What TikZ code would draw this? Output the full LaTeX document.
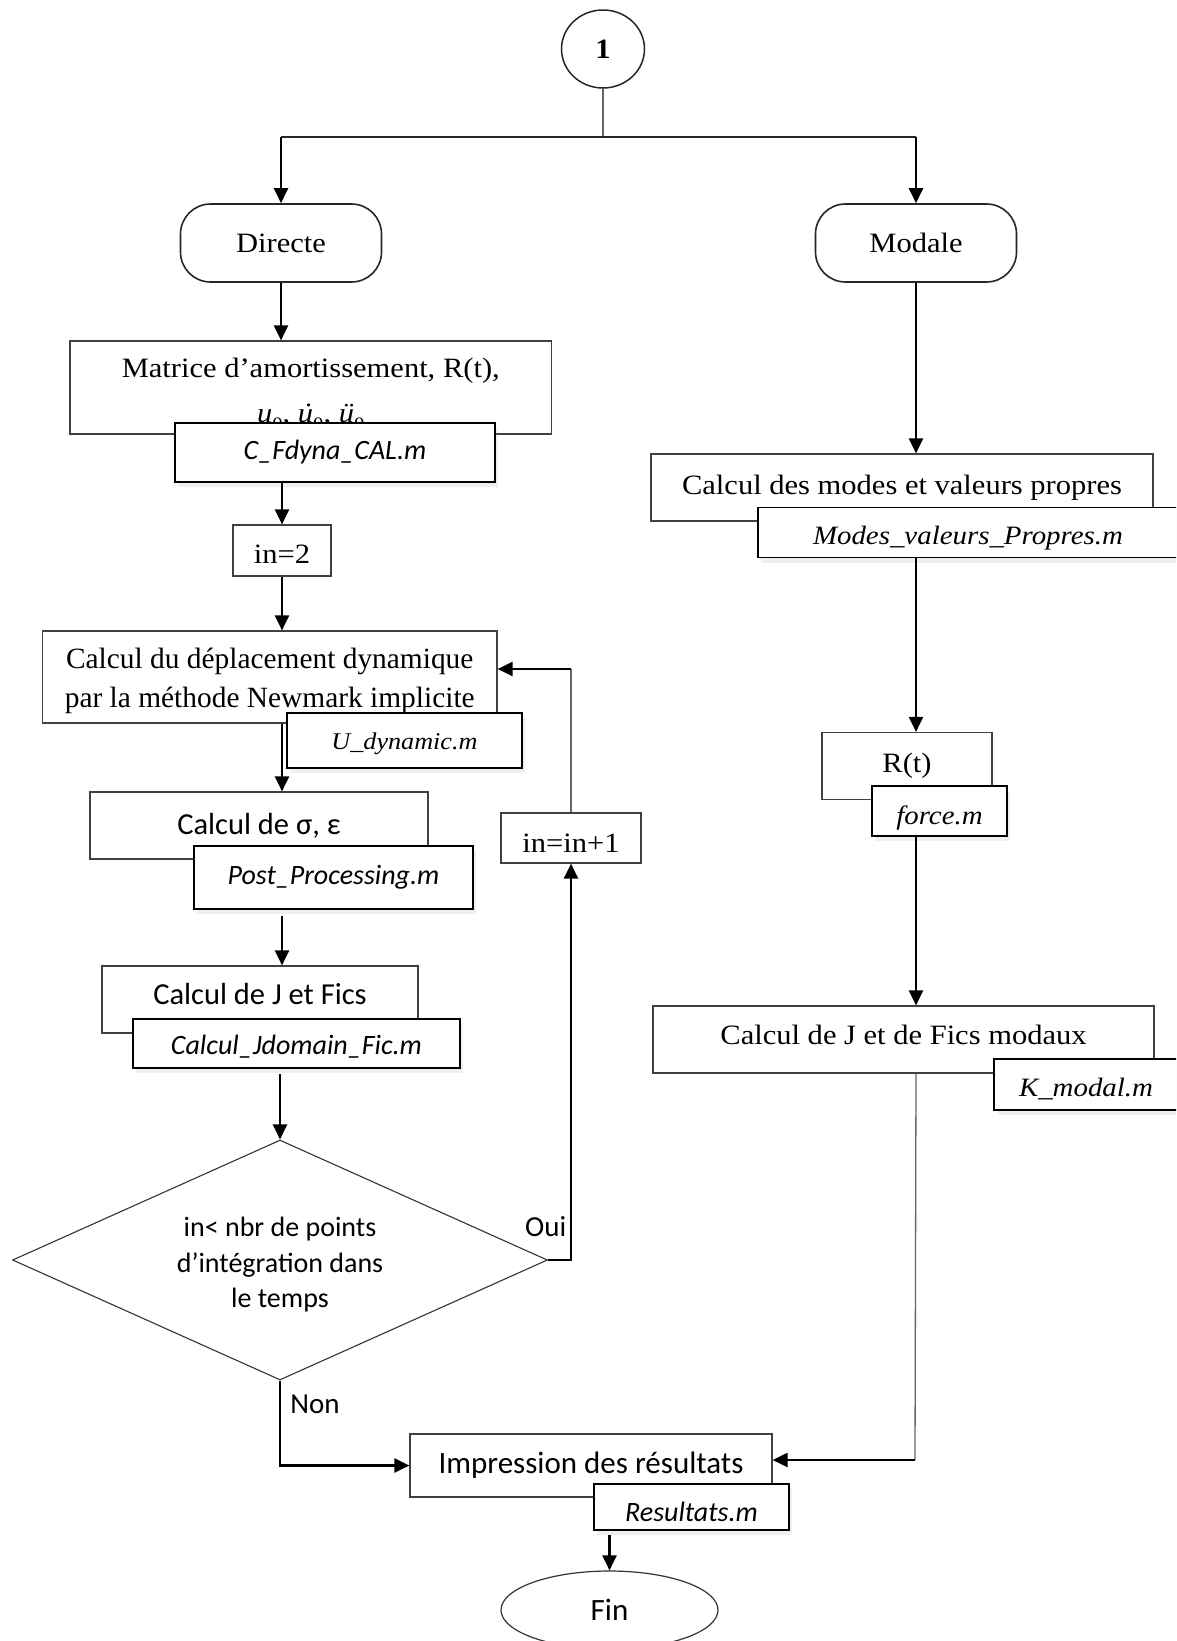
\documentclass[tikz,border=0pt]{standalone}
\usepackage{fontspec}
\setmainfont{Liberation Serif}
\newfontfamily\cambf[FakeStretch=1.09]{Liberation Serif}
\newfontfamily\calf{Carlito}
\newfontfamily\timf{Liberation Serif}
\usetikzlibrary{arrows.meta,shapes.geometric,shapes.misc,shadows}
\newcommand\lowsub[1]{\raisebox{-0.3em}{\fontsize{19}{20}\selectfont #1}}
\newcommand\accu[1]{\ooalign{\textit{u}\cr\hidewidth\kern0.08em\textit{#1}\hidewidth\cr}}
\tikzset{
 box/.style={draw=black!75, line width=1.2pt, fill=white, rectangle, inner sep=0pt, align=center},
 fbox/.style={draw=black, line width=1.8pt, fill=white, rectangle, inner sep=0pt, align=center,
   drop shadow={shadow xshift=3pt, shadow yshift=-5pt, opacity=0.12}},
 cam/.style={font=\cambf\fontsize{28}{34}\selectfont},
 cal/.style={font=\calf\fontsize{30.5}{36}\selectfont},
 cami/.style={font=\cambf\itshape\fontsize{26.5}{32}\selectfont},
 cali/.style={font=\calf\itshape\fontsize{28}{32}\selectfont},
 term/.style={rectangle, rounded corners=30pt, draw=black!85, line width=1.6pt,
   minimum width=201pt, minimum height=78pt, inner sep=0pt, fill=white},
 arr/.style={line width=2.2pt, -{Triangle[length=15pt,width=14pt]}},
 thinl/.style={line width=1.3pt, draw=black!60},
 midl/.style={line width=1.6pt, draw=black!85},
 lbl/.style={font=\calf\fontsize{29}{34}\selectfont, inner sep=0pt},
 txt/.style={inner sep=0pt, align=center},
}
\begin{document}
\begin{tikzpicture}[x=1pt,y=-1pt]
\useasboundingbox (0,0) rectangle (1176,1641);
\clip (0,0) rectangle (1176,1641);
\fill[white] (0,0) rectangle (1176,1641);

% top
\node[ellipse, draw=black!85, line width=1.5pt, minimum width=83pt, minimum height=78pt, inner sep=0pt,
  font=\cambf\bfseries\fontsize{28}{34}\selectfont] (c1) at (603,49) {1};
\node[term, cam] (dir) at (281,243) {Directe};
\node[term, cam] (mod) at (916,243) {Modale};
\coordinate (jn) at (603,137);

% left column
\node[box, minimum width=481.5pt, minimum height=93pt] (mat) at (310.75,387.5) {};
\node[txt, font=\cambf\fontsize{28}{45}\selectfont] (matt) at ([yshift=-7pt]mat.center)
  {Matrice d’amortissement, R(t),\\ \textit{u}\lowsub{0}, \accu{˙}\lowsub{0}, \accu{¨}\lowsub{0}};
\node[fbox, cali, minimum width=320pt, minimum height=59pt] (cf) at (335,452.5) {C\_Fdyna\_CAL.m};
\node[box, cam, text height=26pt, text depth=0pt, minimum width=98pt, minimum height=51pt] (in2) at (282,550.5) {in=2};
\node[box, minimum width=454.5pt, minimum height=92pt] (depl) at (269.75,677) {};
\node[txt, font=\timf\fontsize{29.4}{39}\selectfont] (deplt) at ([yshift=-4pt]depl.center)
  {Calcul du déplacement dynamique\\par la méthode Newmark implicite};
\node[fbox, font=\cambf\itshape\fontsize{24}{30}\selectfont, text height=17pt, text depth=0pt,
  minimum width=235pt, minimum height=55pt] (udyn) at (404.5,740.5) {U\_dynamic.m};
\node[box, cal, minimum width=338pt, minimum height=67pt] (sig) at (259,825.5) {Calcul de σ, ε};
\node[fbox, cali, minimum width=279pt, minimum height=63pt] (post) at (333.5,877.5) {Post\_Processing.m};
\node[box, cal, text height=20pt, text depth=10pt, minimum width=316pt, minimum height=67pt] (jf) at (260,999.5) {Calcul de J et Fics};
\node[fbox, cali, text height=22pt, text depth=0pt, minimum width=327pt, minimum height=49pt] (jdom) at (296.5,1043.5) {Calcul\_Jdomain\_Fic.m};
\node[diamond, draw=black!80, line width=1.1pt, aspect=2.23, minimum width=535pt, minimum height=240pt, inner sep=0pt] (dia) at (280,1260) {};
\node[txt, font=\calf\fontsize{28}{35.5}\selectfont] (diat) at ([yshift=-5pt]dia.center)
  {in< nbr de points\\d’intégration dans\\le temps};
\node[box, cam, text height=29pt, text depth=0pt, minimum width=140pt, minimum height=50pt] (inc) at (571,838) {in=in+1};
\node[box, font=\calf\fontsize{31}{36}\selectfont, minimum width=362pt, minimum height=63pt] (impr) at (591,1465.5) {Impression des résultats};
\node[fbox, cali, text height=28pt, text depth=0pt, minimum width=195pt, minimum height=46pt] (res) at (691.5,1507) {Resultats.m};
\node[ellipse, draw=black!80, line width=1.2pt, minimum width=217pt, minimum height=78pt, inner sep=0pt,
  font=\calf\fontsize{31}{36}\selectfont] (fin) at (609.5,1610) {Fin};

% right column
\node[box, cam, minimum width=502pt, minimum height=67pt] (modes) at (902,487.5) {Calcul des modes et valeurs propres};
\node[fbox, cami, text height=24pt, text depth=0pt, minimum width=420pt, minimum height=50pt] (mv) at (968,532.5) {Modes\_valeurs\_Propres.m};
\node[box, cam, minimum width=170pt, minimum height=67pt] (rt) at (907,766) {R(t)};
\node[fbox, cami, text height=27pt, text depth=0pt, minimum width=135pt, minimum height=50pt] (force) at (939.5,811) {force.m};
\node[box, cam, text height=19pt, text depth=9pt, minimum width=501pt, minimum height=67pt] (jm) at (903.5,1039.5) {Calcul de J et de Fics modaux};
\node[fbox, cami, text height=23pt, text depth=0pt, minimum width=184pt, minimum height=51pt] (km) at (1086,1084.5) {K\_modal.m};

% labels
\node[lbl] (oui) at (545.7,1227) {Oui};
\node[lbl] (non) at (315,1404) {Non};

% connectors
\draw[thinl] (c1.south) -- (jn);
\draw[midl] (jn -| dir.north) -- (jn -| mod.north);
\draw[arr] (jn -| dir.north) -- (dir.north);
\draw[arr] (jn -| mod.north) -- (mod.north);

\draw[arr] (dir.south) -- (dir.south |- mat.north);
\draw[arr] (in2.north |- cf.south) -- (in2.north);
\draw[arr] (in2.south) -- (in2.south |- depl.north);
\draw[arr] (in2.south |- depl.south) -- (in2.south |- sig.north);
\draw[arr, shorten <=6pt] (in2.south |- post.south) -- (in2.south |- jf.north);
\draw[arr, shorten <=5pt] (dia.north |- jdom.south) -- (dia.north);
\draw[arr] (dia.east) -| (inc.south);
\coordinate (lp) at (571,669);
\draw[thinl] (inc.north) -- (inc.north |- lp);
\draw[arr] (inc.north |- lp) -- (lp -| depl.east);
\draw[arr] (dia.south) |- (impr.west);
\draw[arr, shorten <=4pt] (fin.north |- res.south) -- (fin.north);

\draw[arr] (mod.south) -- (mod.south |- modes.north);
\draw[arr] (mod.south |- mv.south) -- (mod.south |- rt.north);
\draw[arr] (mod.south |- force.south) -- (mod.south |- jm.north);
\coordinate (cr) at (915,1460);
\draw[thinl] (mod.south |- jm.south) -- (cr);
\draw[arr] (cr) -- (cr -| impr.east);
\end{tikzpicture}
\end{document}
